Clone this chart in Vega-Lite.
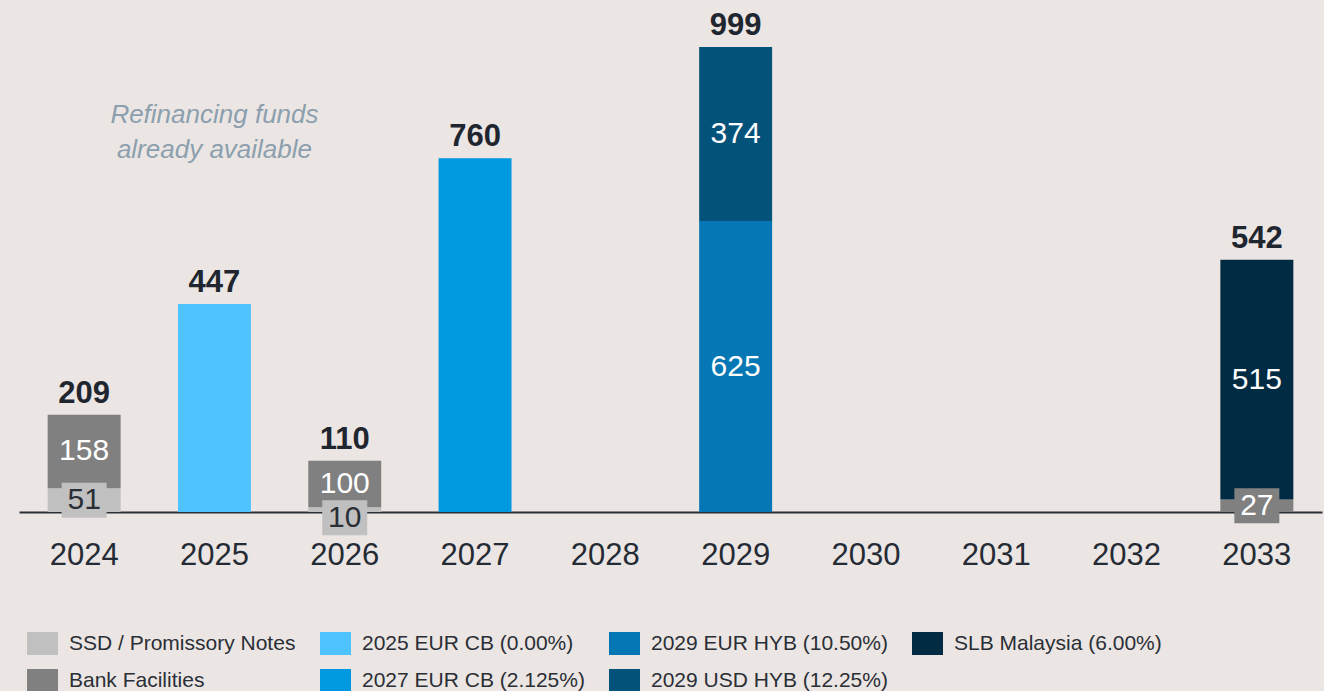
{
  "$schema": "https://vega.github.io/schema/vega-lite/v6.json",
  "width": 1303,
  "height": 512,
  "autosize": "none",
  "padding": {"left": 19, "top": 0, "right": 2, "bottom": 179},
  "background": "#ebe6e3",
  "config": {"view": {"stroke": null}, "font": "Liberation Sans"},
  "datasets": {
    "debt": [
      {"year": "2024", "series": "SSD / Promissory Notes", "amount": 51, "layer": 1},
      {"year": "2024", "series": "Bank Facilities", "amount": 158, "layer": 2},
      {"year": "2025", "series": "2025 EUR CB (0.00%)", "amount": 447, "layer": 3},
      {"year": "2026", "series": "SSD / Promissory Notes", "amount": 10, "layer": 1},
      {"year": "2026", "series": "Bank Facilities", "amount": 100, "layer": 2},
      {"year": "2027", "series": "2027 EUR CB (2.125%)", "amount": 760, "layer": 4},
      {"year": "2029", "series": "2029 EUR HYB (10.50%)", "amount": 625, "layer": 5},
      {"year": "2029", "series": "2029 USD HYB (12.25%)", "amount": 374, "layer": 6},
      {"year": "2033", "series": "Bank Facilities", "amount": 27, "layer": 2},
      {"year": "2033", "series": "SLB Malaysia (6.00%)", "amount": 515, "layer": 7}
    ],
    "note": [
      {"year": "2025", "level": 854, "text": ["Refinancing funds", "already available"]}
    ]
  },
  "data": {"name": "debt"},
  "encoding": {
    "x": {
      "field": "year",
      "type": "ordinal",
      "title": null,
      "scale": {
        "domain": ["2024", "2025", "2026", "2027", "2028", "2029", "2030", "2031", "2032", "2033"],
        "paddingInner": 0.44,
        "paddingOuter": 0.22
      },
      "axis": {
        "labelAngle": 0,
        "labelFontSize": 31,
        "labelColor": "#252b35",
        "labelPadding": 28,
        "ticks": false,
        "tickSize": 0,
        "domainColor": "#2a2e36",
        "domainWidth": 2,
        "grid": false
      }
    }
  },
  "layer": [
    {
      "mark": {"type": "bar"},
      "encoding": {
        "y": {"field": "amount", "type": "quantitative", "stack": "zero", "scale": {"domain": [0, 1100], "nice": false}, "axis": null},
        "color": {
          "field": "series",
          "type": "nominal",
          "scale": {
            "domain": ["SSD / Promissory Notes", "Bank Facilities", "2025 EUR CB (0.00%)", "2027 EUR CB (2.125%)", "2029 EUR HYB (10.50%)", "2029 USD HYB (12.25%)", "SLB Malaysia (6.00%)"],
            "range": ["#c0c0c0", "#808080", "#4fc3ff", "#0099e0", "#0477b4", "#03527a", "#002b43"]
          },
          "legend": {
            "orient": "none",
            "legendX": 12,
            "legendY": 632,
            "columns": 4,
            "title": null,
            "symbolType": "M-1.348,-1H1.348V1H-1.348Z",
            "symbolSize": 529,
            "symbolStrokeWidth": 0,
            "symbolOpacity": 1,
            "labelFontSize": 21,
            "labelColor": "#2a2e36",
            "labelOffset": 15,
            "labelLimit": 400,
            "columnPadding": 23,
            "rowPadding": 14,
            "padding": 0
          }
        },
        "order": {"field": "layer", "sort": "ascending"}
      }
    },
    {
      "mark": {"type": "text", "fontSize": 31, "fontWeight": "bold", "color": "#1f2630", "baseline": "alphabetic", "dy": -12},
      "encoding": {
        "y": {"aggregate": "sum", "field": "amount", "type": "quantitative"},
        "text": {"aggregate": "sum", "field": "amount", "type": "quantitative"}
      }
    },
    {
      "data": {"name": "note"},
      "mark": {"type": "text", "fontSize": 26, "fontStyle": "italic", "color": "#8c9fae", "lineHeight": 35, "baseline": "middle"},
      "encoding": {
        "y": {"field": "level", "type": "quantitative"},
        "text": {"field": "text"}
      }
    },
    {
      "transform": [
        {"joinaggregate": [{"op": "count", "as": "parts"}], "groupby": ["year"]},
        {"filter": "datum.parts > 1"},
        {"stack": "amount", "groupby": ["year"], "sort": [{"field": "layer", "order": "ascending"}], "as": ["v0", "v1"]},
        {"fold": ["v0", "v1"], "as": ["edge", "pos"]}
      ],
      "encoding": {
        "y": {"aggregate": "mean", "field": "pos", "type": "quantitative"},
        "detail": {"field": "series", "type": "nominal"}
      },
      "layer": [
        {
          "transform": [{"filter": "datum.amount < 60 && datum.amount >= 20"}],
          "mark": {"type": "point", "shape": "M-1.286,-1H1.286V1H-1.286Z", "size": 1225, "filled": true, "opacity": 1, "strokeWidth": 0},
          "encoding": {"color": {"field": "series", "type": "nominal"}}
        },
        {
          "transform": [{"filter": "datum.amount < 20"}],
          "mark": {"type": "point", "shape": "M-1.286,-1H1.286V1H-1.286Z", "size": 1225, "filled": true, "opacity": 1, "strokeWidth": 0, "yOffset": 8},
          "encoding": {"color": {"field": "series", "type": "nominal"}}
        },
        {
          "transform": [{"filter": "datum.amount >= 20"}],
          "mark": {"type": "text", "fontSize": 30, "baseline": "middle"},
          "encoding": {
            "text": {"field": "amount", "type": "quantitative"},
            "color": {"condition": {"test": "datum.series === 'SSD / Promissory Notes'", "value": "#2a2e36"}, "value": "#ffffff"}
          }
        },
        {
          "transform": [{"filter": "datum.amount < 20"}],
          "mark": {"type": "text", "fontSize": 30, "baseline": "middle", "yOffset": 8},
          "encoding": {
            "text": {"field": "amount", "type": "quantitative"},
            "color": {"condition": {"test": "datum.series === 'SSD / Promissory Notes'", "value": "#2a2e36"}, "value": "#ffffff"}
          }
        }
      ]
    }
  ]
}
